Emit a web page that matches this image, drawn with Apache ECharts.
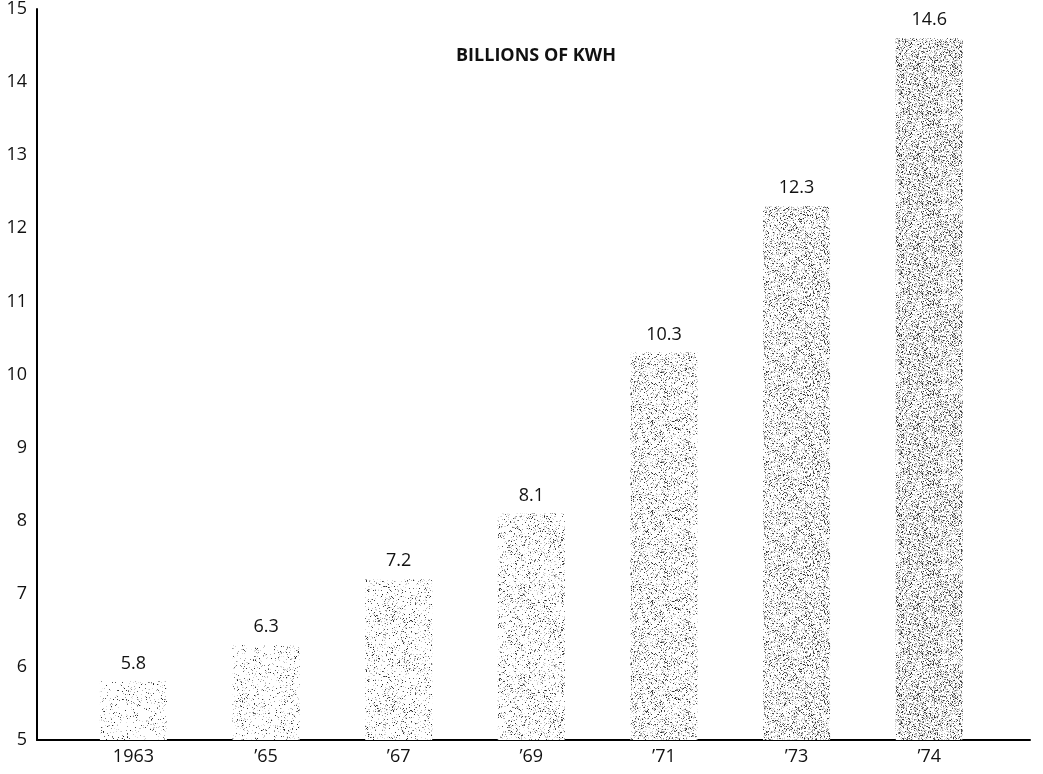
<!DOCTYPE html>
<html>
<head>
<meta charset="utf-8">
<script src="https://cdn.jsdelivr.net/npm/echarts@6/dist/echarts.min.js"></script>
<style>
  html, body { margin: 0; padding: 0; background: #fff; }
  #chart { width: 1043px; height: 774px; }
</style>
</head>
<body>
<div id="chart"></div>
<script>
// data
var years = ['1963', '\u201965', '\u201967', '\u201969', '\u201971', '\u201973', '\u201974'];
var kwh = [5.8, 6.3, 7.2, 8.1, 10.3, 12.3, 14.6];
var yMin = 5, yMax = 15, yStep = 1;

// stipple density of each bar (style only)
var shade = [0.045, 0.055, 0.07, 0.09, 0.12, 0.16, 0.20];
var font = '"Open Sans", "Noto Sans", sans-serif';

// grainy print texture, seeded so it is the same every run
function stipple(density, seed) {
  var size = 90;
  var c = document.createElement('canvas');
  c.width = size; c.height = size;
  var ctx = c.getContext('2d');
  ctx.fillStyle = '#fff';
  ctx.fillRect(0, 0, size, size);
  var s = seed * 7919 + 13;
  function rnd() { s = (s * 16807) % 2147483647; return s / 2147483647; }
  for (var y = 0; y < size; y++) {
    for (var x = 0; x < size; x++) {
      var r = rnd();
      if (r < density) {
        var g = 30 + Math.floor(rnd() * 140);
        ctx.fillStyle = 'rgb(' + g + ',' + g + ',' + g + ')';
        ctx.fillRect(x, y, 1, 1);
      } else if (r < density * 2.2) {
        var h = 185 + Math.floor(rnd() * 50);
        ctx.fillStyle = 'rgb(' + h + ',' + h + ',' + h + ')';
        ctx.fillRect(x, y, 1, 1);
      }
    }
  }
  return c;
}

var barData = kwh.map(function (v, i) {
  return {
    value: [i, v],
    itemStyle: { color: { image: stipple(shade[i], i + 1), repeat: 'repeat' } }
  };
});

var chart = echarts.init(document.getElementById('chart'));
chart.setOption({
  animation: false,
  title: {
    text: 'BILLIONS OF KWH',
    left: 451,
    top: 42,
    textStyle: { fontFamily: font, fontSize: 18, fontWeight: 'bold', color: '#111' }
  },
  grid: { left: 37, right: 13, top: 8, bottom: 34 },
  xAxis: {
    type: 'value',
    min: -0.727,
    max: 6.76,
    axisLine: { show: true, onZero: false, lineStyle: { color: '#000', width: 2 } },
    axisTick: { show: false },
    splitLine: { show: false },
    axisLabel: {
      customValues: years.map(function (y, i) { return i; }),
      formatter: function (v) { return years[Math.round(v)]; },
      fontFamily: font,
      fontSize: 18,
      color: '#111',
      margin: 8
    }
  },
  yAxis: {
    type: 'value',
    min: yMin,
    max: yMax,
    interval: yStep,
    axisLine: { show: true, onZero: false, lineStyle: { color: '#000', width: 2 } },
    axisTick: { show: false },
    splitLine: { show: false },
    axisLabel: { fontFamily: font, fontSize: 18, color: '#111', margin: 10 }
  },
  series: [{
    type: 'bar',
    barWidth: 67,
    data: barData,
    label: {
      show: true,
      position: 'top',
      distance: 9,
      fontFamily: font,
      fontSize: 18,
      color: '#111',
      formatter: function (p) { return p.value[1].toFixed(1); }
    }
  }]
});
</script>
</body>
</html>
